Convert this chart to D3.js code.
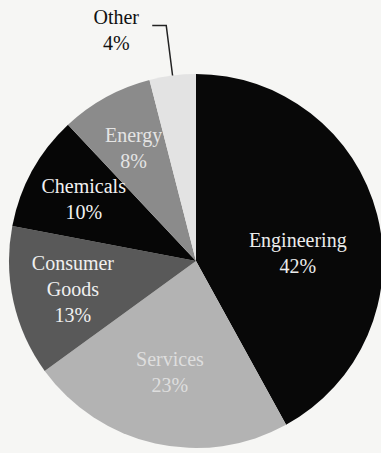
<!DOCTYPE html>
<html>
<head>
<meta charset="utf-8">
<script src="https://cdn.jsdelivr.net/npm/d3@7"></script>
<style>
  body { margin: 0; background: #f6f6f4; }
  svg { display: block; }
</style>
</head>
<body>
<svg id="canvas" width="381" height="453"></svg>
<script>
let sectors = ['Engineering', 'Services', 'Consumer Goods', 'Chemicals', 'Energy', 'Other']
let shares = [42, 23, 13, 10, 8, 4]
let fills = ['#080808', '#b3b3b3', '#595959', '#060606', '#8b8b8b', '#e3e3e3']
let textFills = ['#ececec', '#dedede', '#f0f0f0', '#f2f2f2', '#e4e4e4', '#111']

let width = 381, height = 453
let cx = 196, cy = 261, radius = 187

let svg = d3.select('#canvas')
let g = svg.append('g').attr('transform', 'translate(' + cx + ',' + cy + ')')

let pie = d3.pie().sort(null).value(d => d.value)
let arcs = pie(sectors.map((s, i) => ({ name: s, value: shares[i], i: i })))

let arc = d3.arc().innerRadius(0).outerRadius(radius)

g.selectAll('path')
  .data(arcs)
  .enter()
  .append('path')
  .attr('d', arc)
  .attr('fill', d => fills[d.data.i])

// point at radius r along the middle of a slice
let midPoint = (d, r) => {
  let a = (d.startAngle + d.endAngle) / 2
  return [Math.sin(a) * r, -Math.cos(a) * r]
}

// small hand nudges so labels sit like the original
let nudge = { 'Engineering': [-2, 19], 'Services': [0, -6] }

let lineH = 26
let font = '"Liberation Serif", "Times New Roman", serif'

let addLabel = (lines, x, y, fill) => {
  let t = g.append('text')
    .attr('text-anchor', 'middle')
    .attr('font-family', font)
    .attr('font-size', 20)
    .attr('fill', fill)
  lines.forEach((l, k) => {
    t.append('tspan').attr('x', x).attr('y', y + k * lineH).text(l)
  })
}

arcs.forEach(d => {
  let lines = d.data.name.split(' ')
  lines.push(d.data.value + '%')
  if (d.data.name === 'Other') {
    // leader line out of the top of the pie
    let p0 = midPoint(d, radius)
    let p1 = midPoint(d, radius * 1.27)
    let p2 = [p1[0] - 14, p1[1]]
    g.append('path')
      .attr('d', d3.line()([p0, p1, p2]))
      .attr('fill', 'none')
      .attr('stroke', '#222')
      .attr('stroke-width', 1.5)
    addLabel(lines, p2[0] - 36, p2[1] - 1, textFills[d.data.i])
    return
  }
  let f = 0.72 - 0.35 * d.data.value / 100
  let p = midPoint(d, radius * f)
  let n = nudge[d.data.name] || [0, 0]
  let x = p[0] + n[0]
  let y = p[1] - (lines.length - 1) * lineH / 2 + 7 + n[1]
  addLabel(lines, x, y, textFills[d.data.i])
})
</script>
</body>
</html>
